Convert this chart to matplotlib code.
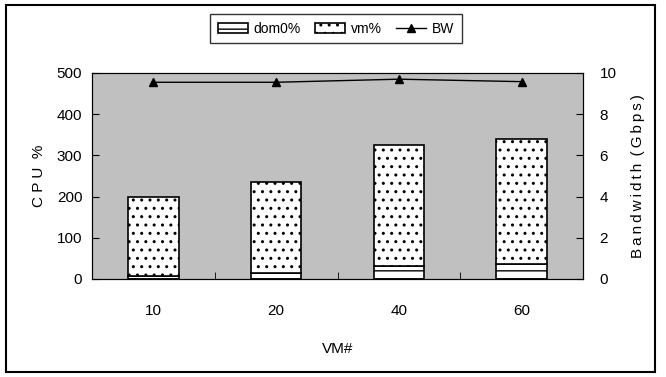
import matplotlib
matplotlib.use('Agg')
from matplotlib import pyplot as plt
from matplotlib.patches import Rectangle
import numpy as np

plt.rcParams['font.family'] = ['Liberation Sans', 'DejaVu Sans']
plt.rcParams['hatch.linewidth'] = 1.0

# data
vms = ['10', '20', '40', '60']
dom0 = [7, 15, 31, 36]
vm = [193, 220, 294, 305]
bw = [9.55, 9.55, 9.7, 9.58]

fig = plt.figure(figsize=(6.66, 3.77), dpi=100)
fig.patches.append(Rectangle((6/666, 1-372/377), 649/666, 367/377,
                             transform=fig.transFigure, fill=False,
                             edgecolor='black', linewidth=1.5))

ax = fig.add_axes([92/666, 1-279/377, 491/666, 206/377])
ax.set_facecolor('#c0c0c0')
x = np.arange(len(vms))
w = 0.41
b1 = ax.bar(x, dom0, w, color='white', edgecolor='black', hatch='--', linewidth=1.2)
b2 = ax.bar(x, vm, w, bottom=dom0, color='white', edgecolor='black', hatch='..', linewidth=1.2)
ax.set_xlim(-0.5, 3.5)
ax.set_ylim(0, 500)
ax.set_yticks(range(0, 501, 100))
ax.set_xticks(x)
ax.set_xticklabels(vms)
ax.set_xticks([0.5, 1.5, 2.5], minor=True)
ax.tick_params(axis='x', which='major', length=0, pad=18)
ax.tick_params(axis='x', which='minor', length=5, direction='in')
ax.tick_params(axis='y', direction='in', length=5, pad=7)
ax.set_ylabel('C P U  %', fontsize=11, labelpad=8)
ax.set_xlabel('VM#', fontsize=11, labelpad=17)
for lab in ax.get_xticklabels() + ax.get_yticklabels():
    lab.set_fontsize(11)

ax2 = ax.twinx()
l, = ax2.plot(x, bw, color='black', marker='^', markersize=6, linewidth=1.0)
ax2.set_ylim(0, 10)
ax2.set_yticks(range(0, 11, 2))
ax2.tick_params(axis='y', direction='in', length=5, pad=12, labelsize=11)
bw_label = '\u2009'.join('Bandwidth') + '\u2009 (\u2009' + '\u2009'.join('Gbps') + '\u2009)'
ax2.set_ylabel(bw_label, fontsize=11, labelpad=10)

fig.legend([b1, b2, l], ['dom0%', 'vm%', 'BW'], loc='upper center',
           bbox_to_anchor=(336/666, 1-7/377), ncol=3, frameon=True,
           fancybox=False, edgecolor='black', fontsize=10,
           handlelength=2.2, handletextpad=0.4, columnspacing=1.0,
           borderpad=0.55)

fig.savefig('out.png', dpi=100)
